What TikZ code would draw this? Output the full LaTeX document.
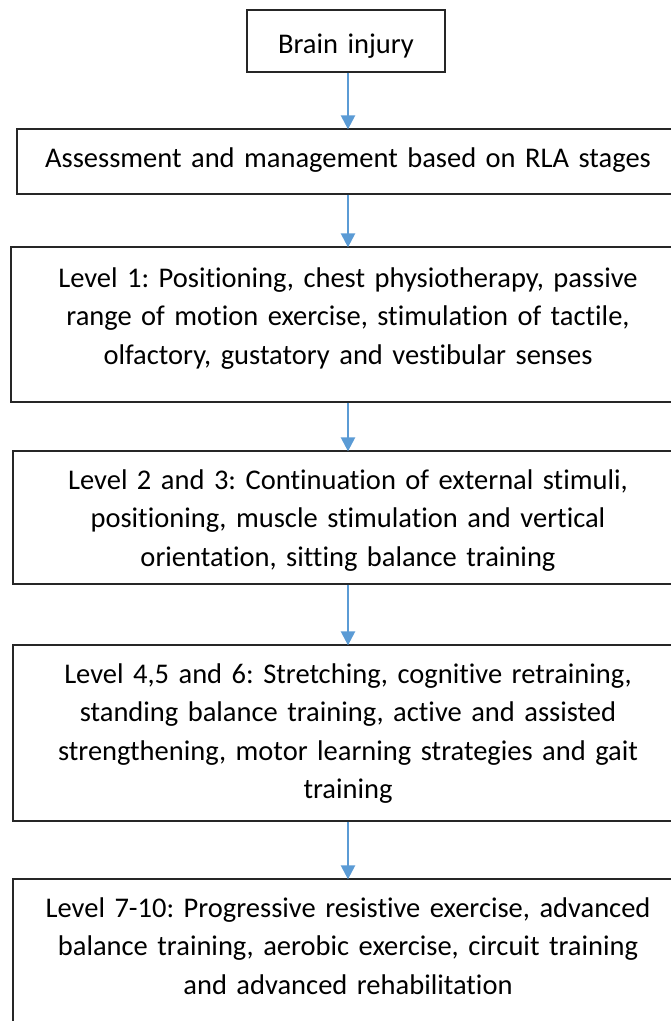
\documentclass[tikz,border=0pt]{standalone}
\usepackage{fontspec}
\setmainfont[Ligatures=NoCommon]{Carlito}
\usetikzlibrary{arrows.meta}
\definecolor{arrowblue}{HTML}{5B9BD5}
\tikzset{
  box/.style={draw=black!85, line width=1.3pt, rectangle, inner sep=0pt},
  txt/.style={font=\fontsize{28.5}{38.5}\selectfont\frenchspacing, text width=660pt, align=center, inner sep=0pt, anchor=north},
  arr/.style={draw=arrowblue, line width=2.4pt, -{Triangle[length=14pt,width=14pt]}, shorten >=-1pt}
}
\begin{document}
\begin{tikzpicture}[x=1pt,y=-1pt]
\useasboundingbox (0,0) rectangle (670,1021);
% boxes
\node[box, minimum width=198pt, minimum height=62pt] (b1) at (346,41) {};
\node[box, minimum width=662pt, minimum height=65pt] (b2) at (348,161.5) {};
\node[box, minimum width=674pt, minimum height=155pt] (b3) at (348,324.5) {};
\node[box, minimum width=670pt, minimum height=133pt] (b4) at (348,517.5) {};
\node[box, minimum width=670pt, minimum height=176pt] (b5) at (348,733) {};
\node[box, minimum width=670pt, minimum height=181pt] (b6) at (348,969.5) {};
% texts
\node[txt] (t1) at (346,{53-26.95}) {\strut Brain injury};
\node[txt] (t2) at (348,{167-26.95}) {\strut Assessment and management based on RLA stages};
\node[txt] (t3) at (348,{287-26.95}) {\strut Level 1: Positioning, chest physiotherapy, passive\\\strut range of motion exercise, stimulation of tactile,\\\strut olfactory, gustatory and vestibular senses};
\node[txt] (t4) at (348,{489-26.95}) {\strut Level 2 and 3: Continuation of external stimuli,\\\strut positioning, muscle stimulation and vertical\\\strut orientation, sitting balance training};
\node[txt] (t5) at (348,{683-26.95}) {\strut Level 4,5 and 6: Stretching, cognitive retraining,\\\strut standing balance training, active and assisted\\\strut strengthening, motor learning strategies and gait\\\strut training};
\node[txt] (t6) at (348,{917-26.95}) {\strut Level 7-10: Progressive resistive exercise, advanced\\\strut balance training, aerobic exercise, circuit training\\\strut and advanced rehabilitation};
% arrows
\draw[arr] (b1.south -| b2.north) -- (b2.north);
\draw[arr] (b2.south) -- (b3.north);
\draw[arr] (b3.south) -- (b4.north);
\draw[arr] (b4.south) -- (b5.north);
\draw[arr] (b5.south) -- (b6.north);
\end{tikzpicture}
\end{document}
